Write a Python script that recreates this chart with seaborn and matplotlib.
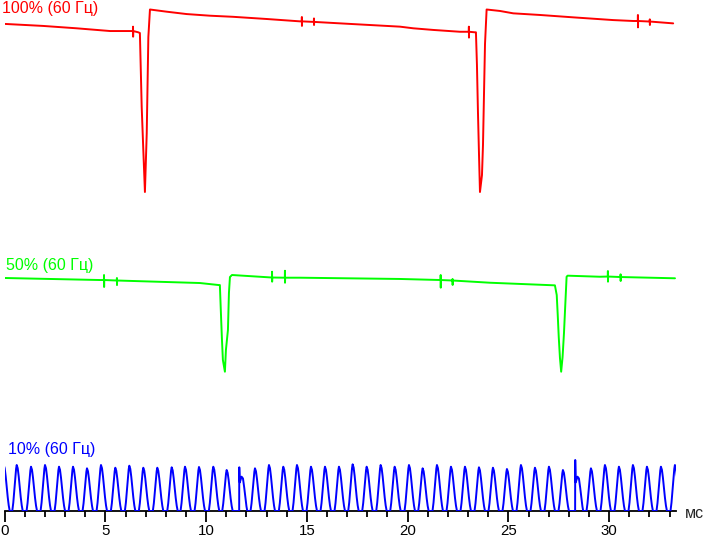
import numpy as np
import pandas as pd
import matplotlib
matplotlib.use("Agg")
import matplotlib.pyplot as plt
from matplotlib.ticker import MultipleLocator
import seaborn as sns

# ---------------------------------------------------------------------
# Values: time in ms, brightness in relative units
# (100 = top level of each trace, 0 = its lowest point)
# ---------------------------------------------------------------------
labels = ["100% (60 Гц)", "50% (60 Гц)", "10% (60 Гц)"]
colors = ["#ff0000", "#00ff00", "#0000ff"]

# 100% trace
red_t = [0.0, 1.90, 3.57, 5.23, 6.63, 6.71, 6.80, 6.88, 6.96, 7.05, 7.13, 7.21,
         8.04, 9.03, 10.19, 11.33, 13.00, 14.66, 17.14, 19.62, 20.28, 21.27, 22.60, 23.34,
         23.39, 23.44, 23.49, 23.54, 23.59, 23.69, 23.74, 23.79, 23.84, 23.92,
         24.58, 25.24, 26.57, 28.22, 30.21, 31.20, 33.18]
red_v = [92.1, 91.0, 89.7, 88.2, 87.5, 87.1, 46.6, 23.0, 0.0, 32.3, 84.9, 100.0,
         98.8, 97.5, 96.6, 96.0, 94.8, 93.5, 92.1, 90.6, 89.7, 88.8, 87.8, 87.5,
         87.5, 69.6, 43.8, 21.4, 0.0, 9.3, 25.8, 53.7, 81.1, 100.0,
         99.2, 97.9, 97.0, 95.7, 94.2, 93.7, 92.4]
# short noise bursts: time, level around them, top and bottom of the burst
red_glitch_t = [6.37, 14.75, 15.35, 23.04, 31.43, 32.02]
red_glitch_base = [88.2, 93.5, 93.2, 87.8, 93.7, 93.4]
red_glitch_hi = [90.6, 95.9, 95.1, 90.6, 97.0, 94.6]
red_glitch_lo = [85.1, 91.0, 91.5, 84.6, 90.2, 91.5]

# 50% trace
green_t = [0.0, 4.73, 9.69, 10.63, 10.68, 10.73, 10.78, 10.83, 10.93, 10.98, 11.08, 11.13, 11.18, 11.28,
           14.66, 19.62, 24.09, 27.31, 27.40, 27.45, 27.50, 27.56, 27.62, 27.69, 27.76, 27.82, 27.89, 27.94,
           29.54, 33.27]
green_v = [96.9, 94.8, 91.7, 89.6, 89.6, 61.7, 34.9, 12.1, 0.0, 22.4, 43.1, 81.4, 97.9, 100.0,
           97.2, 95.9, 92.0, 89.3, 79.3, 58.6, 35.9, 14.2, 0.0, 15.2, 40.0, 67.2, 98.2, 99.3,
           98.2, 96.6]
green_glitch_t = [4.93, 5.57, 13.27, 13.91, 21.64, 22.23, 29.94, 30.57]
green_glitch_base = [94.8, 94.3, 97.4, 97.2, 94.8, 94.3, 98.4, 97.9]
green_glitch_hi = [100.0, 96.9, 103.4, 104.4, 100.0, 95.9, 104.1, 100.7]
green_glitch_lo = [87.6, 89.6, 93.1, 92.0, 86.9, 89.7, 93.1, 93.8]

# 10% trace: PWM pulses, peak time and peak height of each pulse
blue_peak_t = [-0.05, 0.596, 1.305, 2.000, 2.695, 3.390, 4.084, 4.779, 5.489, 6.184,
               6.878, 7.573, 8.288, 8.948, 9.643, 10.352, 11.017, 12.422, 13.117, 13.826,
               14.506, 15.201, 15.896, 16.590, 17.270, 17.965, 18.660, 19.355, 20.065, 20.744,
               21.454, 22.149, 22.844, 23.539, 24.233, 24.928, 25.623, 26.318, 27.012, 27.707,
               29.097, 29.792, 30.486, 31.181, 31.876, 32.571, 33.266]
blue_peak_v = [100.0, 100.0, 96.3, 100.0, 96.3, 96.3, 92.8, 100.0, 94.1, 98.5,
               94.1, 94.1, 95.0, 96.3, 95.7, 96.3, 89.1, 92.8, 100.0, 96.3,
               100.0, 96.3, 96.3, 96.3, 101.5, 96.3, 100.0, 96.3, 100.0, 92.8,
               100.0, 96.3, 96.3, 95.0, 94.1, 91.3, 100.0, 94.1, 96.3, 89.1,
               92.8, 100.0, 96.3, 100.0, 96.3, 96.3, 100.0]
# shape of one pulse (ms from peak, fraction of peak), read from a single pulse
pulse_dt = [-0.22, -0.17, -0.12, -0.07, -0.03, 0.0, 0.05, 0.10, 0.15, 0.20, 0.25, 0.30]
pulse_frac = [0.0, 0.18, 0.45, 0.72, 0.92, 1.0, 0.93, 0.75, 0.52, 0.30, 0.12, 0.0]
# two distorted pulses (once per frame): sharp spike then a lower hump
blue_glitch_t = [11.643, 28.318]
blue_glitch_spike = [95.0, 110.9]
glitch_dt = [-0.005, 0.0, 0.025, 0.114, 0.184, 0.248, 0.308, 0.357, 0.397]
glitch_v = [0.0, None, 62.0, 74.6, 70.7, 50.0, 28.0, 10.0, 0.0]


def with_glitches(t, v, gt, gbase, ghi, glo):
    df = pd.DataFrame({"t": t, "v": v})
    rows = []
    for x, b, hi, lo in zip(gt, gbase, ghi, glo):
        rows += [(x - 0.006, b), (x, hi), (x + 0.004, lo), (x + 0.01, b)]
    spikes = pd.DataFrame(rows, columns=["t", "v"])
    return pd.concat([df, spikes]).sort_values("t").reset_index(drop=True)


red_df = with_glitches(red_t, red_v, red_glitch_t, red_glitch_base, red_glitch_hi, red_glitch_lo)
green_df = with_glitches(green_t, green_v, green_glitch_t, green_glitch_base,
                         green_glitch_hi, green_glitch_lo)

parts = []
for pt, pv in zip(blue_peak_t, blue_peak_v):
    parts.append(pd.DataFrame({"t": np.add(pt, pulse_dt), "v": np.multiply(pv, pulse_frac)}))
for gt, gs in zip(blue_glitch_t, blue_glitch_spike):
    parts.append(pd.DataFrame({"t": np.add(gt, glitch_dt),
                               "v": [gs if x is None else x for x in glitch_v]}))
blue_df = pd.concat(parts).sort_values("t").reset_index(drop=True)

# ---------------------------------------------------------------------
# Layout (pixels of the 703x539 picture)
# ---------------------------------------------------------------------
sns.set_theme(style="white")
plt.rcParams["font.family"] = ["Liberation Sans", "DejaVu Sans"]

W, H = 703, 539
X0, X1 = 4.7, 676.0
T_END = 33.32
fig = plt.figure(figsize=(W / 100, H / 100), dpi=100)


def add_panel(y0_px, y100_px, lo, hi):
    k = (y0_px - y100_px) / 100.0
    bot = y0_px - lo * k
    top = y0_px - hi * k
    ax = fig.add_axes([X0 / W, 1 - bot / H, (X1 - X0) / W, (bot - top) / H])
    ax.set_xlim(0, T_END)
    ax.set_ylim(lo, hi)
    return ax


ax_r = add_panel(192.0, 9.5, -6, 105)
ax_g = add_panel(371.7, 275.0, -8, 110)
ax_b = add_panel(511.0, 465.0, 0, 120)

for ax, df, c in [(ax_r, red_df, colors[0]), (ax_g, green_df, colors[1]), (ax_b, blue_df, colors[2])]:
    sns.lineplot(data=df, x="t", y="v", ax=ax, color=c, lw=1.4,
                 estimator=None, sort=False, zorder=3)
    ax.set_xlabel("")
    ax.set_ylabel("")
    ax.set_facecolor("none")

ax_r.axis("off")
ax_g.axis("off")

for s in ["left", "right", "top"]:
    ax_b.spines[s].set_visible(False)
ax_b.spines["bottom"].set_color("black")
ax_b.spines["bottom"].set_linewidth(1.3)
ax_b.set_yticks([])
ax_b.xaxis.set_major_locator(MultipleLocator(5))
ax_b.xaxis.set_minor_locator(MultipleLocator(1))
ax_b.tick_params(axis="x", which="major", direction="out", length=8.0, width=1.3,
                 color="black", labelsize=10.8, labelcolor="black", pad=1.5, bottom=True)
ax_b.tick_params(axis="x", which="minor", direction="out", length=4.3, width=1.3,
                 color="black", bottom=True)

fig.text(685 / W, 1 - 513 / H, "мс", fontsize=11.5, va="center", ha="left")
for lab, c, (px, py) in zip(labels, colors, [(1.6, 12.7), (6.0, 270.0), (7.6, 454.0)]):
    fig.text(px / W, 1 - py / H, lab, color=c, fontsize=11.5, va="baseline", ha="left")

fig.savefig("out.png", dpi=100)
